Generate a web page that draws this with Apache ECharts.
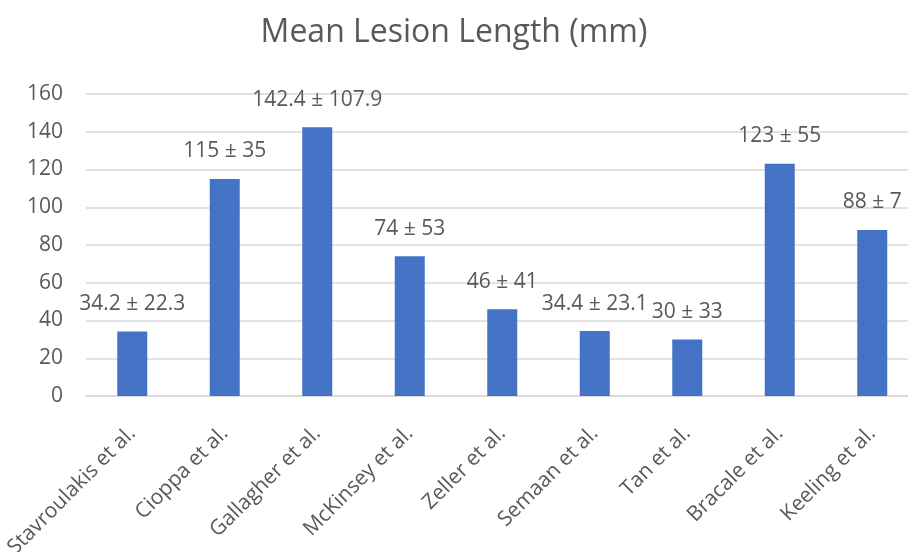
<!DOCTYPE html>
<html><head><meta charset="utf-8">
<script src="https://cdn.jsdelivr.net/npm/echarts@6/dist/echarts.min.js"></script>
<style>html,body{margin:0;padding:0;background:#fff}#c{width:908px;height:552px}</style>
</head><body><div id="c"></div>
<script>
const categories = ["Stavroulakis et al.","Cioppa et al.","Gallagher et al.","McKinsey et al.","Zeller et al.","Semaan et al.","Tan et al.","Bracale et al.","Keeling et al."];
const means = [34.2,115,142.4,74,46,34.4,30,123,88];
const sds = ["22.3","35","107.9","53","41","23.1","33","55","7"];
const meanText = ["34.2","115","142.4","74","46","34.4","30","123","88"];
const yTicks = [0,20,40,60,80,100,120,140,160];

const font = "'Open Sans', 'Noto Sans', sans-serif";
const chart = echarts.init(document.getElementById('c'));
chart.setOption({
  animation:false,
  title:{text:'Mean Lesion Length (mm)',left:'center',top:12,textStyle:{fontFamily:font,fontSize:32,fontWeight:'normal',color:'#595959'}},
  grid:{left:86,width:832.5,top:94,height:302,containLabel:false,outerBoundsMode:'none'},
  xAxis:{type:'category',data:categories,
    axisLine:{lineStyle:{color:'#d9d9d9',width:1.5}},axisTick:{show:false},
    axisLabel:{rotate:45,interval:0,margin:34,fontFamily:font,fontSize:21,color:'#595959'}},
  yAxis:{type:'value',min:yTicks[0],max:yTicks[yTicks.length-1],interval:20,
    axisLine:{show:false},axisTick:{show:false},
    splitLine:{lineStyle:{color:'#d9d9d9',width:1.5}},
    axisLabel:{margin:23,fontFamily:font,fontSize:21,color:'#595959'}},
  series:[{type:'bar',data:means,barWidth:30,itemStyle:{color:'#4472c4'},
    label:{show:true,position:'top',distance:17,fontFamily:font,fontSize:21,color:'#595959',
      formatter:p=>meanText[p.dataIndex]+' \u00b1 '+sds[p.dataIndex]}}]
});
</script></body></html>
